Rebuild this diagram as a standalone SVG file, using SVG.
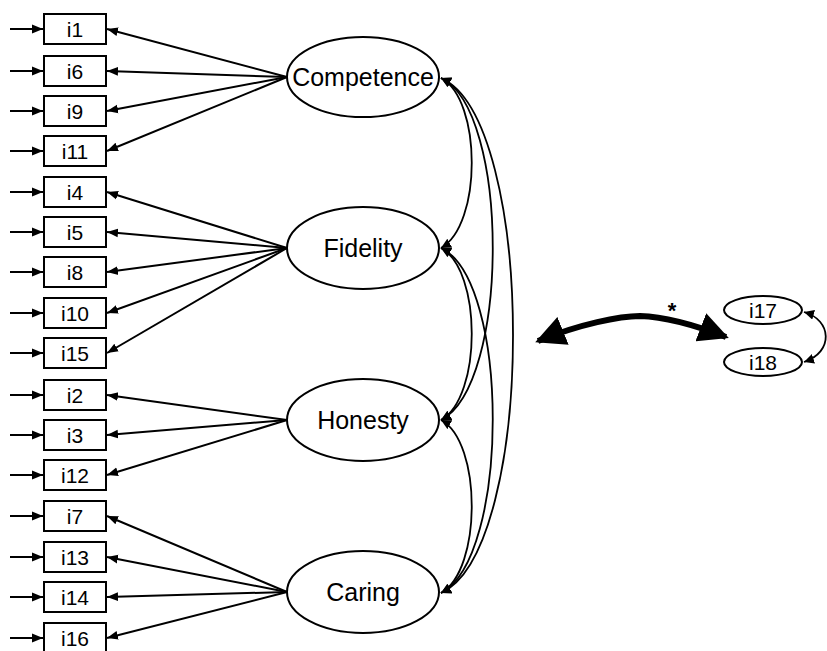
<svg xmlns="http://www.w3.org/2000/svg" width="827" height="651" viewBox="0 0 827 651">
<style>
.box{fill:#fff;stroke:#000;stroke-width:2}
.lat{fill:#fff;stroke:#000;stroke-width:2}
.t{font-family:"Liberation Sans",Arial,sans-serif;font-size:21px;text-anchor:middle;dominant-baseline:central;fill:#000}
.tl{font-family:"Liberation Sans",Arial,sans-serif;font-size:25px;text-anchor:middle;dominant-baseline:central;fill:#000}
.ln{fill:none;stroke:#000;stroke-width:2}
.cv{fill:none;stroke:#000;stroke-width:1.8}
</style>
<defs>
<marker id="ah" viewBox="0 0 10 10" refX="10" refY="5" markerWidth="10" markerHeight="10" markerUnits="userSpaceOnUse" orient="auto-start-reverse"><path d="M0,0 L10,5 L0,10 z" fill="#000"/></marker>
<marker id="ah2" viewBox="0 0 10 10" refX="10" refY="5" markerWidth="11" markerHeight="11" markerUnits="userSpaceOnUse" orient="auto-start-reverse"><path d="M0,1 L10,5 L0,9 z" fill="#000"/></marker>
<marker id="big" viewBox="0 0 10 10" refX="9" refY="5" markerWidth="5" markerHeight="5" orient="auto-start-reverse"><path d="M0,0 L10,5 L0,10 z" fill="#000"/></marker>
</defs>
<g id="connectors">
<g class="ln" marker-end="url(#ah2)">
<line x1="10" y1="29" x2="43" y2="29"/>
<line x1="10" y1="71" x2="43" y2="71"/>
<line x1="10" y1="111" x2="43" y2="111"/>
<line x1="10" y1="151" x2="43" y2="151"/>
<line x1="10" y1="192" x2="43" y2="192"/>
<line x1="10" y1="232" x2="43" y2="232"/>
<line x1="10" y1="272" x2="43" y2="272"/>
<line x1="10" y1="313" x2="43" y2="313"/>
<line x1="10" y1="353" x2="43" y2="353"/>
<line x1="10" y1="395" x2="43" y2="395"/>
<line x1="10" y1="435" x2="43" y2="435"/>
<line x1="10" y1="475" x2="43" y2="475"/>
<line x1="10" y1="516" x2="43" y2="516"/>
<line x1="10" y1="557" x2="43" y2="557"/>
<line x1="10" y1="597" x2="43" y2="597"/>
<line x1="10" y1="638" x2="43" y2="638"/>
</g>
<g class="ln" marker-end="url(#ah2)">
<line x1="287" y1="77" x2="107" y2="29"/>
<line x1="287" y1="77" x2="107" y2="71"/>
<line x1="287" y1="77" x2="107" y2="111"/>
<line x1="287" y1="77" x2="107" y2="151"/>
<line x1="287" y1="248" x2="107" y2="192"/>
<line x1="287" y1="248" x2="107" y2="232"/>
<line x1="287" y1="248" x2="107" y2="272"/>
<line x1="287" y1="248" x2="107" y2="313"/>
<line x1="287" y1="248" x2="107" y2="353"/>
<line x1="287" y1="420" x2="107" y2="395"/>
<line x1="287" y1="420" x2="107" y2="435"/>
<line x1="287" y1="420" x2="107" y2="475"/>
<line x1="287" y1="592" x2="107" y2="516"/>
<line x1="287" y1="592" x2="107" y2="557"/>
<line x1="287" y1="592" x2="107" y2="597"/>
<line x1="287" y1="592" x2="107" y2="638"/>
</g>
<g class="cv" marker-start="url(#ah)" marker-end="url(#ah)">
<path d="M441,78 C482,100 482,225 441,248"/>
<path d="M441,78 C510,110 510,385 441,420"/>
<path d="M441,78 C537,120 537,550 441,593"/>
<path d="M441,248 C482,270 482,397 441,420"/>
<path d="M441,248 C510,280 510,558 441,593"/>
<path d="M441,420 C482,442 482,570 441,593"/>
</g>
<path d="M538,341 C580,324 620,316 640,316 C670,317 700,327 726,337" fill="none" stroke="#000" stroke-width="6" marker-start="url(#big)" marker-end="url(#big)"/>
<text x="672" y="310" class="t" style="font-size:22px;font-weight:bold">*</text>
<path d="M804,312 C832,320 834,352 804,362" class="cv" marker-start="url(#ah)" marker-end="url(#ah)"/>
</g>
<g id="i1"><rect class="box" x="44" y="14" width="62" height="30"/><text class="t" x="75" y="29">i1</text></g>
<g id="i6"><rect class="box" x="44" y="56" width="62" height="30"/><text class="t" x="75" y="71">i6</text></g>
<g id="i9"><rect class="box" x="44" y="96" width="62" height="30"/><text class="t" x="75" y="111">i9</text></g>
<g id="i11"><rect class="box" x="44" y="136" width="62" height="30"/><text class="t" x="75" y="151">i11</text></g>
<g id="i4"><rect class="box" x="44" y="177" width="62" height="30"/><text class="t" x="75" y="192">i4</text></g>
<g id="i5"><rect class="box" x="44" y="217" width="62" height="30"/><text class="t" x="75" y="232">i5</text></g>
<g id="i8"><rect class="box" x="44" y="257" width="62" height="30"/><text class="t" x="75" y="272">i8</text></g>
<g id="i10"><rect class="box" x="44" y="298" width="62" height="30"/><text class="t" x="75" y="313">i10</text></g>
<g id="i15"><rect class="box" x="44" y="338" width="62" height="30"/><text class="t" x="75" y="353">i15</text></g>
<g id="i2"><rect class="box" x="44" y="380" width="62" height="30"/><text class="t" x="75" y="395">i2</text></g>
<g id="i3"><rect class="box" x="44" y="420" width="62" height="30"/><text class="t" x="75" y="435">i3</text></g>
<g id="i12"><rect class="box" x="44" y="460" width="62" height="30"/><text class="t" x="75" y="475">i12</text></g>
<g id="i7"><rect class="box" x="44" y="501" width="62" height="30"/><text class="t" x="75" y="516">i7</text></g>
<g id="i13"><rect class="box" x="44" y="542" width="62" height="30"/><text class="t" x="75" y="557">i13</text></g>
<g id="i14"><rect class="box" x="44" y="582" width="62" height="30"/><text class="t" x="75" y="597">i14</text></g>
<g id="i16"><rect class="box" x="44" y="623" width="62" height="30"/><text class="t" x="75" y="638">i16</text></g>
<g id="competence"><ellipse class="lat" cx="363" cy="77" rx="76" ry="40"/><text class="tl" x="363" y="77">Competence</text></g>
<g id="fidelity"><ellipse class="lat" cx="363" cy="248" rx="76" ry="41"/><text class="tl" x="363" y="248">Fidelity</text></g>
<g id="honesty"><ellipse class="lat" cx="363" cy="420" rx="76" ry="41"/><text class="tl" x="363" y="420">Honesty</text></g>
<g id="caring"><ellipse class="lat" cx="363" cy="592" rx="76" ry="41"/><text class="tl" x="363" y="592">Caring</text></g>
<g id="i17"><ellipse class="lat" cx="763" cy="310" rx="39" ry="14"/><text class="t" x="763" y="310">i17</text></g>
<g id="i18"><ellipse class="lat" cx="763" cy="362" rx="39" ry="14"/><text class="t" x="763" y="362">i18</text></g>
</svg>
